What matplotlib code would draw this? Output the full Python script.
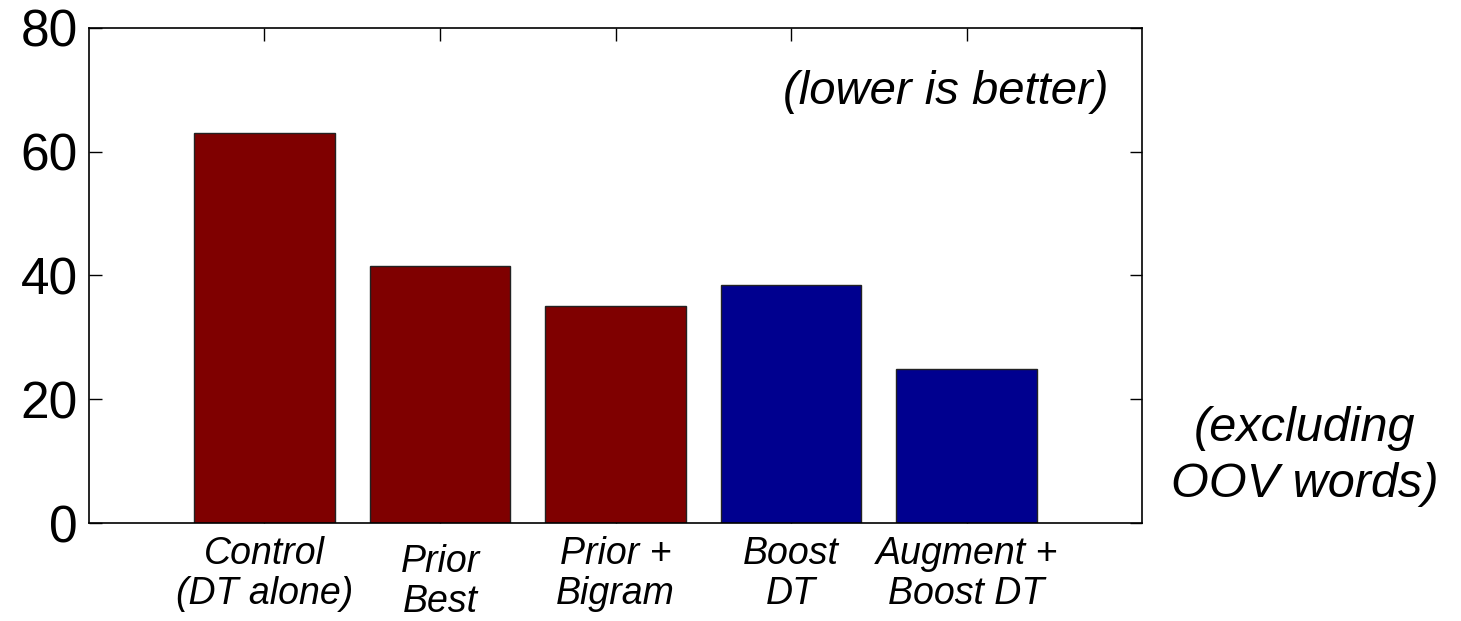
#!/usr/bin/env python3
# -*- coding: utf-8 -*-
"""
Error rate bars (lower is better), MATLAB-looking.
"""
import numpy as np
import matplotlib
matplotlib.use("Agg")
import matplotlib.pyplot as plt
import matplotlib.transforms as mtransforms

# data
categories = ['Control\n(DT alone)', 'Prior\nBest', 'Prior +\nBigram',
              'Boost\nDT', 'Augment +\nBoost DT']
values = [63.0, 41.5, 35.1, 38.5, 24.9]
groups = ['prior', 'prior', 'prior', 'boost', 'boost']
yticks = [0, 20, 40, 60, 80]

colors = {'prior': '#7f0000', 'boost': '#00008f'}

plt.rcParams['font.family'] = ['Liberation Sans', 'DejaVu Sans']

fig = plt.figure(figsize=(14.61, 6.21), dpi=100)
ax = fig.add_axes([0.0609, 0.1578, 0.7208, 0.7972])

ind = np.arange(1, len(values) + 1)
ax.bar(ind, values, 0.8, color=[colors[g] for g in groups],
       edgecolor='#222222', linewidth=1.0)

ax.set_xlim(0, 6)
ax.set_ylim(0, 80)
ax.set_yticks(yticks)
ax.set_xticks(ind)
ax.set_xticklabels(categories, style='italic', fontsize=27, linespacing=1.15)
ax.set_axisbelow(True)
ax.tick_params(axis='both', direction='in', length=9, width=1,
               top=True, right=True, color='black')
ax.tick_params(axis='y', labelsize=37, pad=8)
ax.tick_params(axis='x', pad=9)
for s in ax.spines.values():
    s.set_linewidth(1.2)

# "Prior Best" label sits a little lower in the original
for i, lab in enumerate(ax.get_xticklabels()):
    if i == 1:
        lab.set_transform(lab.get_transform() +
                          mtransforms.ScaledTranslation(0, -8 / 100, fig.dpi_scale_trans))

ax.text(0.968, 0.87, '(lower is better)', transform=ax.transAxes,
        ha='right', va='center', style='italic', fontsize=34)
fig.text(0.893, 0.265, '(excluding\nOOV words)', ha='center', va='center',
         style='italic', fontsize=35, linespacing=1.3)

plt.savefig('out.png', dpi=100)
